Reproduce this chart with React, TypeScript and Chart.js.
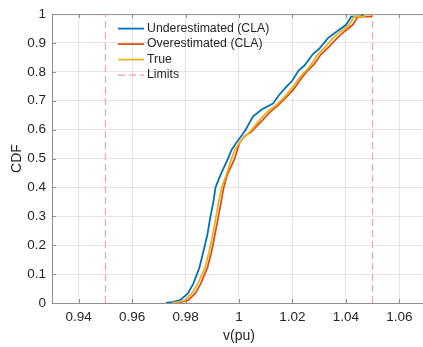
import React, { useEffect, useRef } from 'react';
import { Chart, registerables } from 'chart.js';

Chart.register(...registerables);

// ---- data ----
const underV = [0.9727, 0.975, 0.9779, 0.9809, 0.9829, 0.9852, 0.9867, 0.9882, 0.9892, 0.9904, 0.9912, 0.993, 0.9945, 0.9958, 0.9972, 0.9989, 1.0008, 1.0025, 1.0052, 1.0085, 1.0127, 1.015, 1.0176, 1.02, 1.0222, 1.0245, 1.0276, 1.03, 1.0333, 1.0366, 1.0401, 1.042, 1.0455, 1.0466];
const underCdf = [0, 0.003, 0.01, 0.033, 0.067, 0.123, 0.18, 0.238, 0.294, 0.35, 0.4, 0.442, 0.472, 0.498, 0.53, 0.554, 0.577, 0.6, 0.645, 0.67, 0.69, 0.72, 0.747, 0.77, 0.804, 0.822, 0.861, 0.88, 0.917, 0.94, 0.963, 0.991, 0.991, 1];

const overV = [0.9761, 0.9782, 0.981, 0.9836, 0.9857, 0.9882, 0.9898, 0.991, 0.9922, 0.9933, 0.9942, 0.9955, 0.9983, 1.0002, 1.002, 1.0045, 1.009, 1.0115, 1.0147, 1.018, 1.0205, 1.0235, 1.0257, 1.028, 1.0307, 1.0335, 1.0367, 1.0395, 1.0426, 1.0445, 1.0497, 1.05];
const overCdf = [0, 0.003, 0.01, 0.033, 0.067, 0.123, 0.18, 0.238, 0.294, 0.35, 0.396, 0.442, 0.498, 0.554, 0.577, 0.592, 0.635, 0.66, 0.685, 0.715, 0.74, 0.78, 0.804, 0.825, 0.861, 0.885, 0.917, 0.94, 0.963, 0.991, 0.991, 1];

const trueV = [0.9749, 0.977, 0.9798, 0.9823, 0.9846, 0.9873, 0.9889, 0.9902, 0.9913, 0.9924, 0.9935, 0.9952, 0.9967, 0.9985, 1.0001, 1.0016, 1.0042, 1.0083, 1.011, 1.0145, 1.0175, 1.0201, 1.023, 1.0251, 1.027, 1.0295, 1.032, 1.0351, 1.038, 1.0413, 1.043, 1.0466, 1.0478];
const trueCdf = [0, 0.003, 0.01, 0.033, 0.067, 0.123, 0.18, 0.238, 0.294, 0.35, 0.4, 0.442, 0.486, 0.532, 0.554, 0.572, 0.594, 0.64, 0.665, 0.69, 0.718, 0.747, 0.785, 0.804, 0.825, 0.861, 0.883, 0.917, 0.94, 0.963, 0.991, 0.991, 1];

const limitValues = [0.95, 1.05];

const xTicks = [0.94, 0.96, 0.98, 1, 1.02, 1.04, 1.06];
const xTickLabels = ['0.94', '0.96', '0.98', '1', '1.02', '1.04', '1.06'];
const yTicks = [0, 0.1, 0.2, 0.3, 0.4, 0.5, 0.6, 0.7, 0.8, 0.9, 1];
const yTickLabels = ['0', '0.1', '0.2', '0.3', '0.4', '0.5', '0.6', '0.7', '0.8', '0.9', '1'];

const seriesNames = ['Underestimated (CLA)', 'Overestimated (CLA)', 'True', 'Limits'];
const xTitle = 'v(pu)';
const yTitle = 'CDF';

// ---- styles ----
const FONT = '"Liberation Sans", Arial, Helvetica, sans-serif';
const TEXT = '#262626';
const AXIS = '#8f8f8f';
const GRID = 'rgba(38,38,38,0.12)';
const COLORS = ['#0072BD', '#D95319', '#EDB120', '#F4A3A3'];
const LW = 1.8;
const DASH = [7, 4];

const toPts = (xs: number[], ys: number[]) => xs.map((x, i) => ({ x, y: ys[i] }));

const decor = {
  id: 'matlabDecor',
  beforeDatasetsDraw(chart: any) {
    const { ctx, chartArea, scales } = chart;
    const { left, right, top, bottom } = chartArea;
    ctx.save();
    ctx.strokeStyle = AXIS;
    ctx.lineWidth = 1;
    ctx.beginPath();
    ctx.moveTo(left, top + 0.5);
    ctx.lineTo(right, top + 0.5);
    const tl = 4;
    xTicks.forEach((v) => {
      const px = Math.round(scales.x.getPixelForValue(v)) + 0.5;
      ctx.moveTo(px, bottom);
      ctx.lineTo(px, bottom - tl);
      ctx.moveTo(px, top);
      ctx.lineTo(px, top + tl);
    });
    yTicks.forEach((v) => {
      const py = Math.round(scales.y.getPixelForValue(v)) + 0.5;
      ctx.moveTo(left, py);
      ctx.lineTo(left + tl, py);
    });
    ctx.stroke();
    ctx.restore();
  },
  afterDraw(chart: any) {
    const { ctx, chartArea } = chart;
    const x0 = chartArea.left + 66;
    const x1 = x0 + 26;
    const tx = x1 + 3;
    ctx.save();
    ctx.font = `12.3px ${FONT}`;
    ctx.textBaseline = 'middle';
    ctx.textAlign = 'left';
    seriesNames.forEach((name, i) => {
      const y = chartArea.top + 14.5 + i * 15.5;
      ctx.strokeStyle = COLORS[i];
      ctx.lineWidth = i === 3 ? 1.2 : LW;
      ctx.setLineDash(i === 3 ? DASH : []);
      ctx.beginPath();
      ctx.moveTo(x0, y);
      ctx.lineTo(x1, y);
      ctx.stroke();
      ctx.setLineDash([]);
      ctx.fillStyle = TEXT;
      ctx.fillText(name, tx, y);
    });
    ctx.restore();
  },
};

export default function App() {
  const ref = useRef<HTMLCanvasElement | null>(null);

  useEffect(() => {
    if (!ref.current) return;
    const line = (label: string, data: any[], color: string, order: number) => ({
      label,
      data,
      borderColor: color,
      backgroundColor: color,
      borderWidth: LW,
      pointRadius: 0,
      tension: 0,
      fill: false,
      order,
    });
    const limitSets = limitValues.map((v) => ({
      label: seriesNames[3],
      data: [{ x: v, y: 0 }, { x: v, y: 1 }],
      borderColor: COLORS[3],
      backgroundColor: COLORS[3],
      borderWidth: 1.2,
      borderDash: DASH,
      pointRadius: 0,
      fill: false,
      order: 0,
    }));
    const chart = new Chart(ref.current, {
      type: 'line',
      data: {
        datasets: [
          line(seriesNames[0], toPts(underV, underCdf), COLORS[0], 3),
          line(seriesNames[1], toPts(overV, overCdf), COLORS[1], 2),
          line(seriesNames[2], toPts(trueV, trueCdf), COLORS[2], 1),
          ...limitSets,
        ] as any,
      },
      options: {
        responsive: false,
        animation: false,
        devicePixelRatio: 1,
        layout: { padding: { top: 9, right: 4, left: 0, bottom: 0 } },
        plugins: { legend: { display: false }, tooltip: { enabled: false } },
        scales: {
          x: {
            type: 'linear',
            min: 0.93,
            max: 1.07,
            afterBuildTicks: (s: any) => {
              s.ticks = xTicks.map((value) => ({ value }));
            },
            afterFit: (s: any) => {
              s.height = 44;
            },
            ticks: {
              autoSkip: false,
              maxRotation: 0,
              padding: 6,
              color: TEXT,
              font: { family: FONT, size: 13.5 },
              callback: (_v: any, i: number) => xTickLabels[i],
            },
            grid: { color: GRID, drawTicks: false },
            border: { display: true, color: AXIS },
            title: {
              display: true,
              text: xTitle,
              color: TEXT,
              font: { family: FONT, size: 14 },
              padding: { top: 0, bottom: 2.6 },
            },
          },
          y: {
            type: 'linear',
            min: 0,
            max: 1,
            afterBuildTicks: (s: any) => {
              s.ticks = yTicks.map((value) => ({ value }));
            },
            afterFit: (s: any) => {
              s.width = 52;
            },
            ticks: {
              autoSkip: false,
              padding: 6,
              color: TEXT,
              font: { family: FONT, size: 13.5 },
              callback: (_v: any, i: number) => yTickLabels[i],
            },
            grid: { color: GRID, drawTicks: false },
            border: { display: true, color: AXIS },
            title: {
              display: true,
              text: yTitle,
              color: TEXT,
              font: { family: FONT, size: 14 },
              padding: { top: 8.3, bottom: 0 },
            },
          },
        },
      } as any,
      plugins: [decor],
    });
    return () => chart.destroy();
  }, []);

  return (
    <div style={{ position: 'absolute', left: 0, top: 0, width: 423, height: 347, overflow: 'hidden', background: '#fff' }}>
      <canvas ref={ref} width={430} height={347} style={{ width: 430, height: 347, display: 'block' }} />
    </div>
  );
}
